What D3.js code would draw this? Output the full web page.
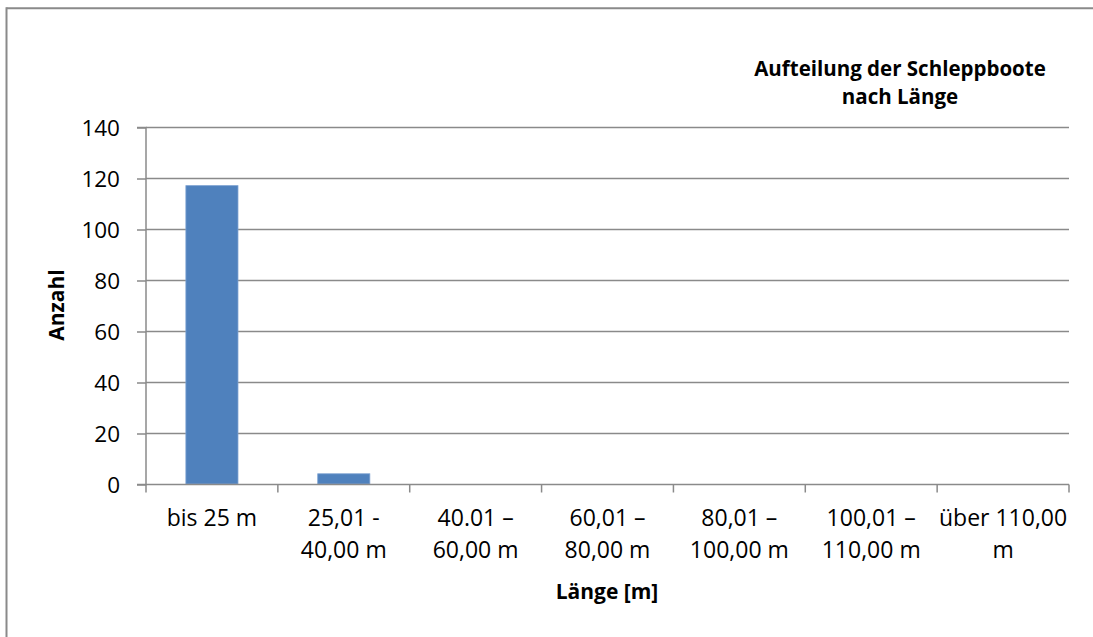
<!DOCTYPE html>
<html>
<head>
<meta charset="utf-8">
<script src="https://cdn.jsdelivr.net/npm/d3@7"></script>
<style>
  body { margin: 0; background: #fff; }
  text { font-family: "Open Sans", sans-serif; fill: #000; }
</style>
</head>
<body>
<div id="chart-area"></div>
<script>
// data
const categories = ["bis 25 m", "25,01 -\n40,00 m", "40.01 –\n60,00 m", "60,01 –\n80,00 m",
	"80,01 –\n100,00 m", "100,01 –\n110,00 m", "über 110,00\nm"]
const counts = [117, 4, 0, 0, 0, 0, 0]
const yTicks = [0, 20, 40, 60, 80, 100, 120, 140]

const W = 1093, H = 637
const PLOT = { LEFT: 146, RIGHT: 1069, TOP: 127, BOTTOM: 484 }

const svg = d3.select("#chart-area").append("svg")
	.attr("width", W)
	.attr("height", H)

// outer frame (only top + left edge visible)
svg.append("line")
	.attr("x1", 6.5).attr("x2", W).attr("y1", 8.3).attr("y2", 8.3)
	.attr("stroke", "#8a8a8a").attr("stroke-width", 2)
svg.append("line")
	.attr("x1", 6.5).attr("x2", 6.5).attr("y1", 7.3).attr("y2", H)
	.attr("stroke", "#8a8a8a").attr("stroke-width", 2)

// scales
const x = d3.scaleBand()
	.domain(categories)
	.range([PLOT.LEFT, PLOT.RIGHT])
	.padding(0)
const y = d3.scaleLinear()
	.domain([0, 140])
	.range([PLOT.BOTTOM, PLOT.TOP])

const gridColor = "#8a8a8a"

// gridlines
svg.append("g")
	.selectAll("line")
	.data(yTicks.filter(d => d > 0))
	.join("line")
	.attr("x1", PLOT.LEFT)
	.attr("x2", PLOT.RIGHT)
	.attr("y1", d => y(d) + 0.5)
	.attr("y2", d => y(d) + 0.5)
	.attr("stroke", gridColor)
	.attr("stroke-width", 1.5)

// bars
const barW = x.bandwidth() * 0.395
svg.append("g")
	.selectAll("rect")
	.data(counts.map((v, i) => ({ cat: categories[i], v })).filter(d => d.v > 0))
	.join("rect")
	.attr("x", d => x(d.cat) + (x.bandwidth() - barW) / 2)
	.attr("y", d => y(d.v))
	.attr("width", barW)
	.attr("height", d => y(0) - y(d.v))
	.attr("fill", "#4f81bd")
	.attr("stroke", "#7aa0d0")
	.attr("stroke-width", 0.8)

// y axis
const yAxisCall = d3.axisLeft(y)
	.tickValues(yTicks)
	.tickSize(9)
	.tickPadding(17)
	.tickFormat(d3.format("d"))
const yAxis = svg.append("g")
	.attr("transform", `translate(${PLOT.LEFT}, 0.5)`)
	.call(yAxisCall)
yAxis.select(".domain").attr("d", `M-9,${PLOT.TOP}H0V${PLOT.BOTTOM}H-9`)
yAxis.selectAll("line, path").attr("stroke", gridColor).attr("stroke-width", 1.5)
yAxis.selectAll("text")
	.attr("font-size", "22.5px")
	.attr("font-family", "Open Sans")
	.attr("fill", "#000")
	.attr("dy", "0.36em")

// x axis: ticks sit at category boundaries
const bounds = categories.map(c => x(c)).concat([PLOT.RIGHT])
const xAxis = svg.append("g")
	.attr("transform", `translate(0, ${PLOT.BOTTOM + 0.5})`)
xAxis.append("line")
	.attr("x1", PLOT.LEFT).attr("x2", PLOT.RIGHT)
	.attr("stroke", gridColor).attr("stroke-width", 1.5)
xAxis.selectAll(".tick")
	.data(bounds)
	.join("line")
	.attr("class", "tick")
	.attr("x1", d => d).attr("x2", d => d)
	.attr("y1", 0).attr("y2", 8)
	.attr("stroke", gridColor).attr("stroke-width", 1.5)

const labels = svg.append("g")
	.selectAll("text")
	.data(categories)
	.join("text")
	.attr("text-anchor", "middle")
	.attr("font-size", "23px")
labels.each(function(d) {
	const t = d3.select(this)
	d.split("\n").forEach((line, i) => {
		t.append("tspan")
			.attr("x", x(d) + x.bandwidth() / 2)
			.attr("y", 526 + i * 32)
			.text(line)
	})
})

// axis titles
svg.append("text")
	.attr("x", 607)
	.attr("y", 599)
	.attr("text-anchor", "middle")
	.attr("font-size", "21px")
	.attr("font-weight", "bold")
	.text("Länge [m]")

svg.append("text")
	.attr("transform", "translate(64, 305) rotate(-90)")
	.attr("text-anchor", "middle")
	.attr("font-size", "21px")
	.attr("font-weight", "bold")
	.text("Anzahl")

// chart title, two separate lines
const titleLines = ["Aufteilung der Schleppboote", "nach Länge"]
svg.append("g")
	.selectAll("text")
	.data(titleLines)
	.join("text")
	.attr("x", 900)
	.attr("y", (d, i) => 75.5 + i * 28)
	.attr("text-anchor", "middle")
	.attr("font-size", "20.5px")
	.attr("font-weight", "bold")
	.text(d => d)
</script>
</body>
</html>
